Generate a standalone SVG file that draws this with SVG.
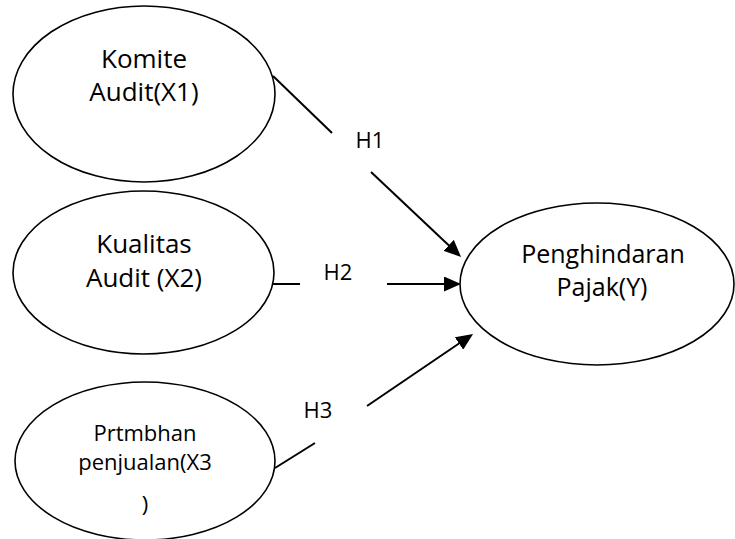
<svg xmlns="http://www.w3.org/2000/svg" width="735" height="539" viewBox="0 0 735 539">
<style>
.node ellipse{fill:#fff;stroke:#000;stroke-width:1.6}
.t{font-family:"Open Sans","Liberation Sans",sans-serif;fill:#000;text-anchor:middle}
.big{font-size:26px}
.mid{font-size:22px}
.lbl{font-family:"Open Sans","Liberation Sans",sans-serif;font-size:22px;fill:#000;text-anchor:middle}
#connectors line{stroke:#000;stroke-width:2;fill:none}
</style>
<defs>
<marker id="arr" viewBox="0 0 17 15" refX="8" refY="7.5" markerWidth="17" markerHeight="15" markerUnits="userSpaceOnUse" orient="auto">
<path d="M0,0 L17,7.5 L0,15 Z" fill="#000"/>
</marker>
</defs>
<rect width="735" height="539" fill="#fff"/>
<g id="connectors">
<line x1="273" y1="76" x2="332" y2="133"/>
<line x1="371" y1="172" x2="454.5" y2="250.8" marker-end="url(#arr)"/>
<line x1="273" y1="284" x2="300" y2="284"/>
<line x1="387" y1="284" x2="452" y2="284" marker-end="url(#arr)"/>
<line x1="275" y1="468" x2="315" y2="443"/>
<line x1="367" y1="406" x2="465.6" y2="339" marker-end="url(#arr)"/>
<text class="lbl" x="370" y="148">H1</text>
<text class="lbl" x="338" y="280">H2</text>
<text class="lbl" x="318" y="418">H3</text>
</g>
<g id="x1" class="node">
<ellipse cx="144" cy="94" rx="131" ry="88"/>
<text class="t big" x="144" y="68">Komite</text>
<text class="t big" x="144" y="101">Audit(X1)</text>
</g>
<g id="x2" class="node">
<ellipse cx="143.5" cy="272.5" rx="130.5" ry="81.5"/>
<text class="t big" x="144" y="253">Kualitas</text>
<text class="t big" x="144" y="287">Audit (X2)</text>
</g>
<g id="x3" class="node">
<ellipse cx="145" cy="461" rx="130" ry="79"/>
<text class="t mid" x="145" y="441">Prtmbhan</text>
<text class="t mid" x="145" y="470">penjualan(X3</text>
<text class="t mid" x="145" y="512">)</text>
</g>
<g id="y" class="node">
<ellipse cx="597" cy="284" rx="137" ry="81"/>
<text class="t" style="font-size:25px" x="603" y="263">Penghindaran</text>
<text class="t" style="font-size:25px" x="602" y="296">Pajak(Y)</text>
</g>
</svg>
